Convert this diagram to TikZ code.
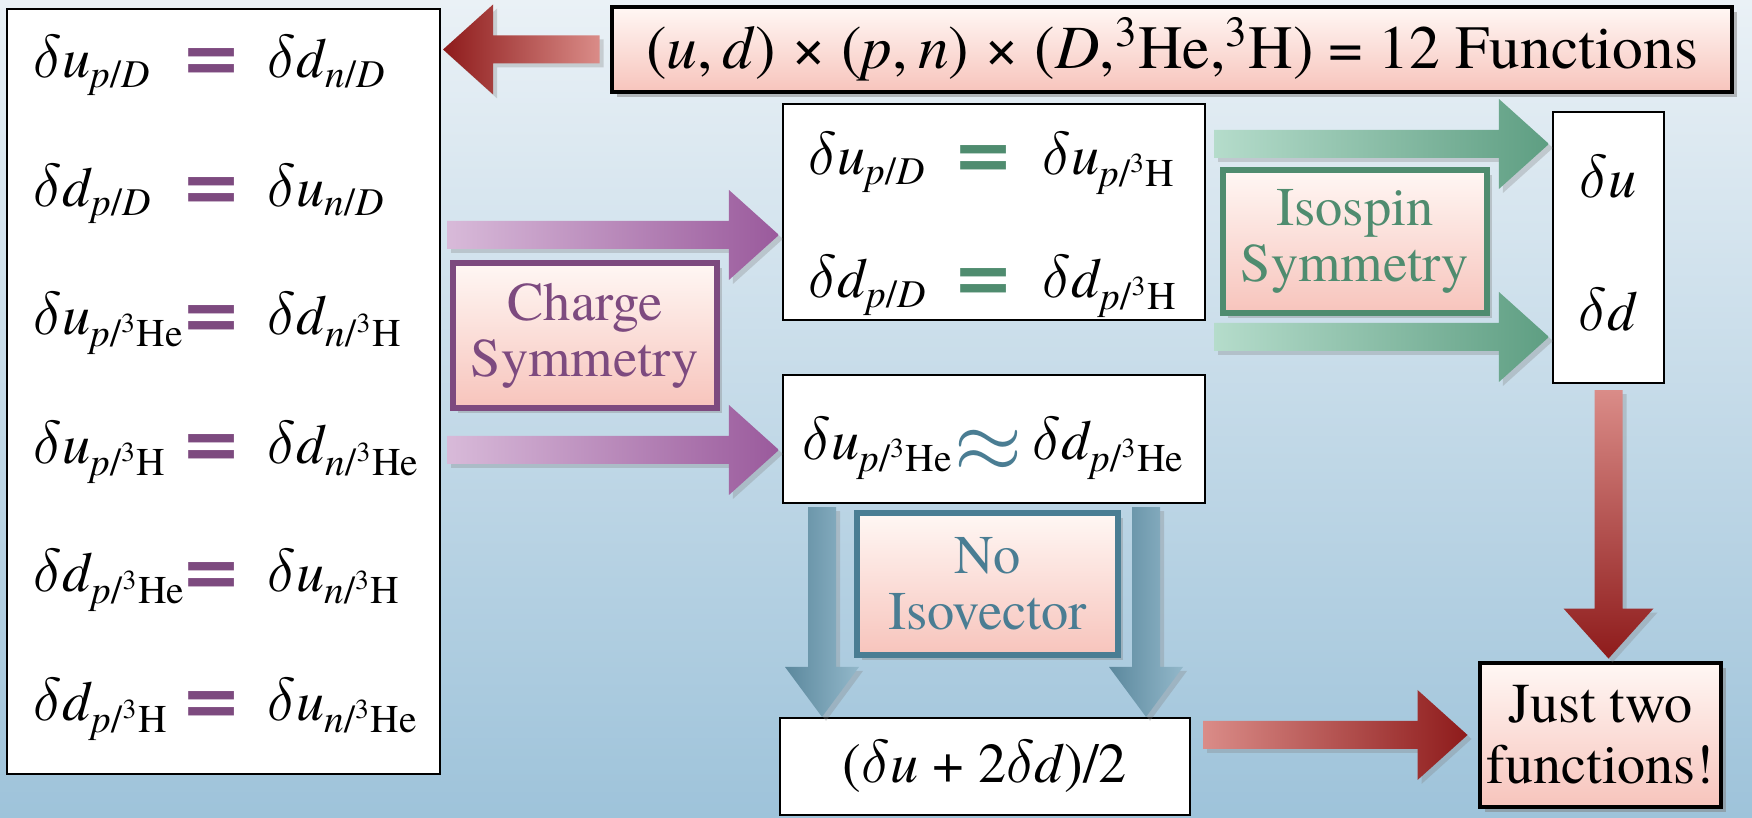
\documentclass[tikz,border=0pt]{standalone}
\usepackage[no-math]{fontspec}
\setmainfont{TeX Gyre Termes}
\usepackage{tikz}
\usetikzlibrary{calc, positioning, shadows}
\definecolor{bgTop}{HTML}{EAF1F6}
\definecolor{bgBot}{HTML}{9EC3DA}
\definecolor{pinkTop}{HTML}{FFF7F4}
\definecolor{pinkBot}{HTML}{F7C4BC}
\definecolor{mPurple}{HTML}{7D4A7F}
\definecolor{mGreen}{HTML}{4F8C6F}
\definecolor{mBlue}{HTML}{4A7D93}
\definecolor{redDark}{HTML}{8E1B1B}
\definecolor{redLight}{HTML}{DA8C88}
\definecolor{purDark}{HTML}{9A5A9C}
\definecolor{purLight}{HTML}{D8BAD9}
\definecolor{grnDark}{HTML}{5E9E82}
\definecolor{grnLight}{HTML}{B5DCCB}
\definecolor{bluDark}{HTML}{5B889D}
\definecolor{bluLight}{HTML}{93B8CA}
% delta q with target subscript
\newcommand{\dl}{\ensuremath{\delta}}
\newcommand{\dq}[3]{\dl\textit{#1}\textsubscript{\textit{#2}/#3}}
\newcommand{\nD}{\textit{D}}
\newcommand{\nHe}{\textsuperscript{3}He}
\newcommand{\nH}{\textsuperscript{3}H}
% fat arrow: [head half width]{style}{from}{to}
\newcommand{\blockarrow}[4][0.45cm]{%
  \coordinate (ba-s) at (#3);
  \coordinate (ba-t) at (#4);
  \coordinate (ba-h) at ($(ba-t)!0.5cm!(ba-s)$);
  \path[#2] ($(ba-s)!0.14cm!90:(ba-t)$) -- ($(ba-h)!0.14cm!-90:(ba-s)$)
    -- ($(ba-h)!#1!-90:(ba-s)$) -- (ba-t) -- ($(ba-h)!#1!90:(ba-s)$)
    -- ($(ba-h)!0.14cm!90:(ba-s)$) -- ($(ba-s)!0.14cm!-90:(ba-t)$) -- cycle;}

\begin{document}
\begin{tikzpicture}[
    box/.style={draw=black, fill=white, line width=0.6pt, inner sep=0pt},
    hbox/.style={draw=black, line width=1.4pt, top color=pinkTop, bottom color=pinkBot,
      drop shadow={opacity=0.5, shadow xshift=0.5mm, shadow yshift=-0.5mm},
      align=center, inner sep=0pt},
    tag/.style={line width=1.7pt, top color=pinkTop, bottom color=pinkBot,
      drop shadow={opacity=0.35, shadow xshift=0.5mm, shadow yshift=-0.5mm},
      align=center, inner sep=0pt, font=\fontsize{15.5}{16}\selectfont},
    eq/.style={font=\fontsize{16}{19}\selectfont, inner sep=0pt},
    rel/.style={font=\fontsize{27}{27}\selectfont\bfseries, inner sep=0pt},
    arr/.style={drop shadow={opacity=0.3, shadow xshift=0.4mm, shadow yshift=-0.4mm}},
  ]
  \useasboundingbox (0,0) rectangle (17.52,8.18);
  \shade[top color=bgTop, bottom color=bgBot] (0,0) rectangle (17.52,8.18);

  % boxes
  \node[box, minimum width=4.33cm, minimum height=7.65cm] (eqs) at (2.235,4.265) {};
  \node[hbox, minimum width=11.2cm, minimum height=0.85cm, font=\fontsize{17.5}{20}\selectfont] (total) at (11.72,7.685)
    {(\textit{u},\,\textit{d}) × (\textit{p},\,\textit{n}) × (\textit{D},\nHe,\nH) = 12 Functions};
  \node[box, minimum width=4.22cm, minimum height=2.16cm] (isob) at (9.94,6.06) {};
  \node[box, minimum width=4.22cm, minimum height=1.28cm] (apx) at (9.94,3.79) {};
  \node[box, minimum width=4.10cm, minimum height=0.97cm, eq] (avg) at (9.85,0.515)
    {(\dl\textit{u} + 2\dl\textit{d})/2};
  \node[box, minimum width=1.11cm, minimum height=2.71cm] (flav) at (16.085,5.705) {};
  \node[hbox, minimum width=2.41cm, minimum height=1.44cm, font=\fontsize{16}{17.4}\selectfont] (two) at (16.005,0.83)
    {Just two\\functions!};

  \foreach \lhs/\rhs [count=\i from 0] in
    {{\dq{u}{p}{\nD}}/{\dq{d}{n}{\nD}},
     {\dq{d}{p}{\nD}}/{\dq{u}{n}{\nD}},
     {\dq{u}{p}{\nHe}}/{\dq{d}{n}{\nH}},
     {\dq{u}{p}{\nH}}/{\dq{d}{n}{\nHe}},
     {\dq{d}{p}{\nHe}}/{\dq{u}{n}{\nH}},
     {\dq{d}{p}{\nH}}/{\dq{u}{n}{\nHe}}} {
    \node[eq, anchor=base west] (l\i) at (0.33,7.40-1.285*\i) {\lhs};
    \node[rel, text=mPurple] (e\i) at (2.12,7.51-1.285*\i) {=};
    \node[eq, anchor=base west] (r\i) at (2.67,7.40-1.285*\i) {\rhs};
  }

  \node[eq, anchor=base west] (iu) at (8.08,6.43) {\dq{u}{p}{\nD}};
  \node[rel, text=mGreen] (ie1) at (9.84,6.54) {=};
  \node[eq, anchor=base west] (iu3) at (10.42,6.43) {\dq{u}{p}{\nH}};
  \node[eq, anchor=base west] (id) at (8.08,5.20) {\dq{d}{p}{\nD}};
  \node[rel, text=mGreen] (ie2) at (9.84,5.31) {=};
  \node[eq, anchor=base west] (id3) at (10.42,5.20) {\dq{d}{p}{\nH}};

  \node[eq, anchor=base west] (au) at (8.02,3.58) {\dq{u}{p}{\nHe}};
  \node[rel, font=\fontsize{26}{26}\selectfont, text=mBlue] (ae) at (9.88,3.67) {$\approx$};
  \node[eq, anchor=base west] (ad) at (10.32,3.58) {\dq{d}{p}{\nHe}};

  \node[eq] (fu) at (16.08,6.41) {\dl\textit{u}};
  \node[eq] (fd) at (16.08,5.08) {\dl\textit{d}};

  % arrows
  \blockarrow{arr, left color=redDark, right color=redLight}{[xshift=-0.1cm]total.west}{[xshift=0.02cm]eqs.east |- total.west}
  \blockarrow{arr, left color=purLight, right color=purDark}{[xshift=0.06cm, yshift=1.565cm]eqs.east}{[xshift=-0.03cm, yshift=-0.23cm]isob.west}
  \blockarrow{arr, left color=purLight, right color=purDark}{[xshift=0.06cm, yshift=-0.585cm]eqs.east}{[xshift=-0.03cm, yshift=-0.11cm]apx.west}
  \blockarrow{arr, left color=grnLight, right color=grnDark}{[xshift=0.08cm, yshift=0.68cm]isob.east}{[xshift=-0.03cm, yshift=1.035cm]flav.west}
  \blockarrow{arr, left color=grnLight, right color=grnDark}{[xshift=0.08cm, yshift=-1.25cm]isob.east}{[xshift=-0.03cm, yshift=-0.895cm]flav.west}
  \blockarrow[0.37cm]{arr, left color=bluDark, right color=bluLight}{[xshift=-1.72cm, yshift=-0.03cm]apx.south}{[xshift=-1.63cm]avg.north}
  \blockarrow[0.37cm]{arr, left color=bluDark, right color=bluLight}{[xshift=1.52cm, yshift=-0.03cm]apx.south}{[xshift=1.61cm]avg.north}
  \blockarrow{arr, top color=redLight, bottom color=redDark}{[yshift=-0.06cm]flav.south}{[yshift=0.02cm]two.north -| flav.south}
  \blockarrow{arr, left color=redLight, right color=redDark}{[xshift=0.12cm, yshift=0.315cm]avg.east}{[xshift=-0.1cm]two.west}

  % labels
  \node[tag, draw=mPurple, text=mPurple, minimum width=2.64cm, minimum height=1.45cm] (cs) at (5.85,4.825) {Charge\\Symmetry};
  \node[tag, draw=mGreen, text=mGreen, minimum width=2.64cm, minimum height=1.43cm] (iso) at (13.55,5.765) {Isospin\\Symmetry};
  \node[tag, draw=mBlue, text=mBlue, minimum width=2.61cm, minimum height=1.42cm] (nv) at (9.875,2.34) {No\\Isovector};
\end{tikzpicture}
\end{document}
